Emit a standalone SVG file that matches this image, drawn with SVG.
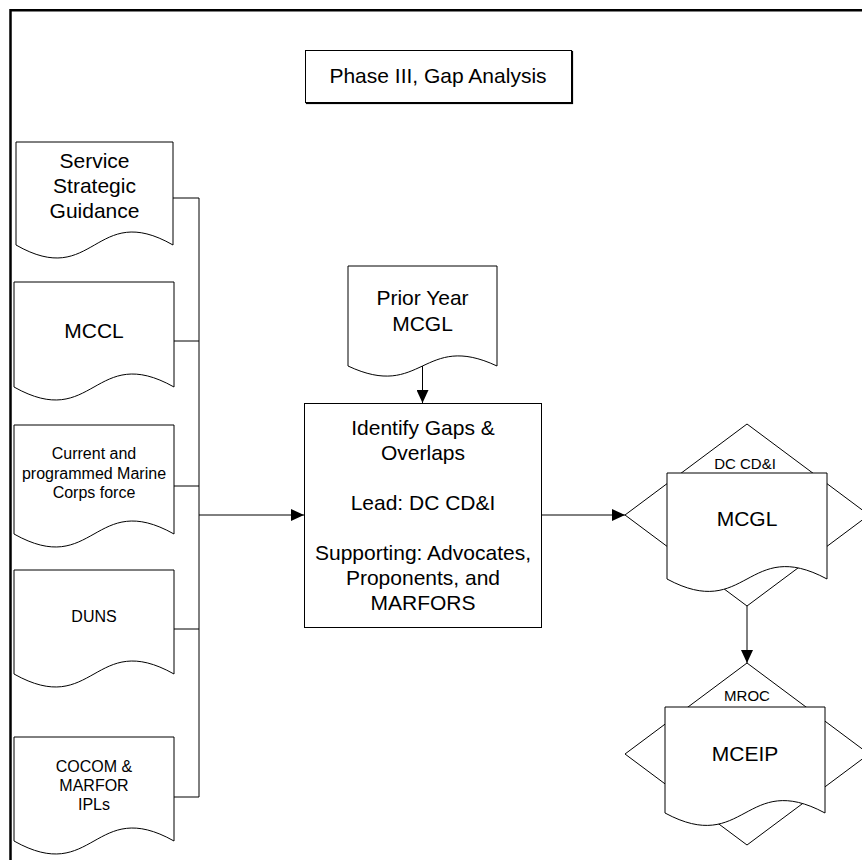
<svg xmlns="http://www.w3.org/2000/svg" width="862" height="860" viewBox="0 0 862 860">
<style>
  .shape { fill: #fff; stroke: #000; stroke-width: 1; }
  .line { fill: none; stroke: #000; stroke-width: 1; }
  .t21 { font-family: "Liberation Sans", Arial, sans-serif; font-size: 21px; fill: #000; text-anchor: middle; }
  .t16 { font-family: "Liberation Sans", Arial, sans-serif; font-size: 16px; fill: #000; text-anchor: middle; }
  .t15 { font-family: "Liberation Sans", Arial, sans-serif; font-size: 15px; fill: #000; text-anchor: middle; }
</style>
<defs>
  <marker id="arrow" viewBox="0 0 13 12" refX="13" refY="6" markerWidth="13" markerHeight="12" markerUnits="userSpaceOnUse" orient="auto">
    <path d="M0,0 L13,6 L0,12 Z" fill="#000"/>
  </marker>
</defs>
<rect width="862" height="860" fill="#fff"/>
<path d="M10.5,860 V10.2 H862" fill="none" stroke="#000" stroke-width="2.5"/>

<g id="title">
  <rect x="306.5" y="51.5" width="266" height="52" fill="none" stroke="#000" stroke-width="1.2"/>
  <rect class="shape" x="305.5" y="50.5" width="266" height="52"/>
  <text class="t21" x="438" y="83">Phase III, Gap Analysis</text>
</g>

<g id="connectors">
  <path class="line" d="M173,198 H199 M174,341 H199 M174,486 H199 M174,629 H199 M174,797 H199 M199,198 V797"/>
  <path class="line" d="M199,515 H304" marker-end="url(#arrow)"/>
  <path class="line" d="M422.5,366 V403" marker-end="url(#arrow)"/>
  <path class="line" d="M542,515 H625" marker-end="url(#arrow)"/>
  <path class="line" d="M747,606 V663" marker-end="url(#arrow)"/>
</g>

<g id="service-strategic-guidance">
  <path class="shape" d="M16,142 H173 V245 C94.5,200 94.5,290 16,245 Z"/>
  <text class="t21" x="94.5" y="167.5">Service</text>
  <text class="t21" x="94.5" y="192.5">Strategic</text>
  <text class="t21" x="94.5" y="217.5">Guidance</text>
</g>

<g id="mccl">
  <path class="shape" d="M14,282 H174 V387 C94,342 94,432 14,387 Z"/>
  <text class="t21" x="94" y="337.5">MCCL</text>
</g>

<g id="current-force">
  <path class="shape" d="M14,425 H174 V534 C94,489 94,579 14,534 Z"/>
  <text class="t16" x="94" y="459">Current and</text>
  <text class="t16" x="94" y="478.5">programmed Marine</text>
  <text class="t16" x="94" y="498">Corps force</text>
</g>

<g id="duns">
  <path class="shape" d="M14,570 H174 V674 C94,629 94,719 14,674 Z"/>
  <text class="t16" x="94" y="622">DUNS</text>
</g>

<g id="cocom-marfor-ipls">
  <path class="shape" d="M14,737 H174 V841 C94,796 94,886 14,841 Z"/>
  <text class="t16" x="94" y="772">COCOM &amp;</text>
  <text class="t16" x="94" y="791">MARFOR</text>
  <text class="t16" x="94" y="810">IPLs</text>
</g>

<g id="prior-year-mcgl">
  <path class="shape" d="M348,266 H497 V366 C422.5,331 422.5,401 348,366 Z"/>
  <text class="t21" x="422.5" y="304.5">Prior Year</text>
  <text class="t21" x="422.5" y="330.5">MCGL</text>
</g>

<g id="identify-gaps">
  <rect class="shape" x="304.5" y="403.5" width="237" height="224"/>
  <text class="t21" x="423" y="434.5">Identify Gaps &amp;</text>
  <text class="t21" x="423" y="459.5">Overlaps</text>
  <text class="t21" x="423" y="509.5">Lead: DC CD&amp;I</text>
  <text class="t21" x="423" y="559.5">Supporting: Advocates,</text>
  <text class="t21" x="423" y="584.5">Proponents, and</text>
  <text class="t21" x="423" y="609.5">MARFORS</text>
</g>

<g id="mcgl">
  <path class="shape" d="M747,424 L869,515 L747,606 L625,515 Z"/>
  <path class="shape" d="M667,473 H827 V579 C747,536 747,622 667,579 Z"/>
  <text class="t15" x="745" y="468.5">DC CD&amp;I</text>
  <text class="t21" x="747" y="525.5">MCGL</text>
</g>

<g id="mceip">
  <path class="shape" d="M747,663 L869,754 L747,845 L625,754 Z"/>
  <path class="shape" d="M665,707 H825 V813 C745,770 745,856 665,813 Z"/>
  <text class="t15" x="747" y="700.5">MROC</text>
  <text class="t21" x="745" y="760.5">MCEIP</text>
</g>
</svg>
